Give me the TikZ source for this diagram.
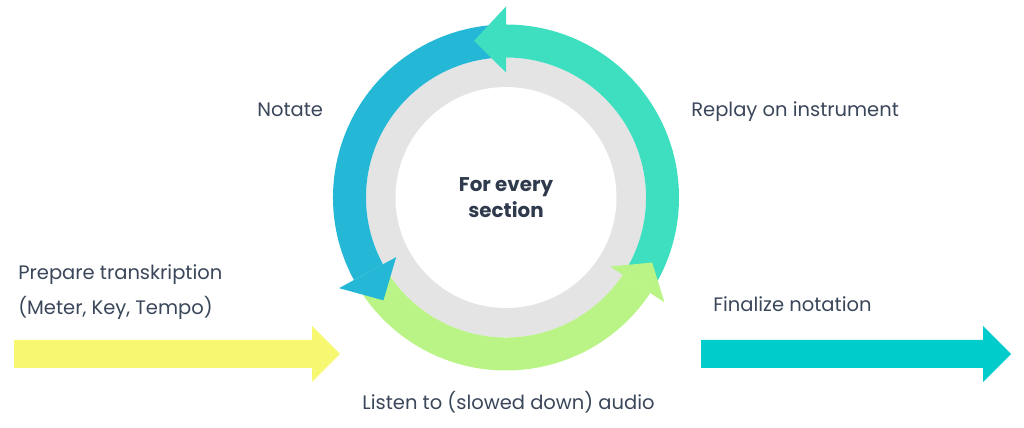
\documentclass[tikz,border=0pt]{standalone}
\usepackage{fontspec}
\setmainfont{Poppins}
\usepackage{tikz}
\usetikzlibrary{calc}

\definecolor{cycblue}{RGB}{37,184,214}
\definecolor{cycteal}{RGB}{61,223,192}
\definecolor{cycgreen}{RGB}{186,244,134}
\definecolor{inyellow}{RGB}{247,247,114}
\definecolor{outcyan}{RGB}{0,204,204}
\definecolor{ringgray}{RGB}{228,228,228}
\definecolor{txtgray}{RGB}{58,70,89}
\definecolor{txtdark}{RGB}{47,59,77}

\tikzset{
  steplabel/.style={text=txtgray, font=\fontsize{11.1}{13}\selectfont, inner sep=0pt},
  centerlabel/.style={text=txtdark, font=\fontsize{11.3}{14.5}\selectfont\bfseries, align=center, inner sep=0pt}
}

\begin{document}
\begin{tikzpicture}[x=0.02cm, y=0.02cm]
  \useasboundingbox (0,0) rectangle (1024,428);

  \coordinate (C) at (506,230.5);

  % Ring in the middle
  \fill[ringgray] (C) circle (140);
  \fill[white] (C) circle (110.5);

  \begin{scope}[shift={(C)}]
    % Shafts of the three cycle arrows
    \fill[cycblue] (91:140) arc[start angle=91, end angle=208.5, radius=140]
      -- (208.5:173) arc[start angle=208.5, end angle=91, radius=173] -- cycle;
    \fill[cycgreen] (209:140) arc[start angle=209, end angle=326.5, radius=140]
      -- (326.5:173) arc[start angle=326.5, end angle=209, radius=173] -- cycle;
    \fill[cycteal] (-33:140) arc[start angle=-33, end angle=90, radius=140]
      -- (90:173) arc[start angle=90, end angle=-33, radius=173] -- cycle;

    % Heads
    \fill[cycblue] (208.5:125) -- (220:160) -- (208.5:190) -- cycle;
    \fill[cycgreen] (326.5:125) -- (336:160) -- (326.5:190) -- cycle;
    \fill[cycteal] (90:125) -- (101.5:160) -- (90:191) -- cycle;
  \end{scope}

  % Straight arrows in and out
  \fill[inyellow] (14,88) -- (312,88) -- (312,102) -- (340,74) -- (312,46) -- (312,60) -- (14,60) -- cycle;
  \fill[outcyan] (701,88) -- (983,88) -- (983,102) -- (1011,74) -- (983,46) -- (983,60) -- (701,60) -- cycle;

  % Labels
  \node[centerlabel] (every) at (C) {For every\\section};
  \node[steplabel, anchor=base west] (notate) at (257,311) {Notate};
  \node[steplabel, anchor=base west] (replay) at (691,311) {Replay on instrument};
  \node[steplabel, anchor=base] (listen) at (508.5,18) {Listen to (slowed down) audio};
  \node[steplabel, anchor=base west] (prepare) at (18,148) {Prepare transkription};
  \node[steplabel, anchor=base west] (meter) at (18,113) {(Meter, Key, Tempo)};
  \node[steplabel, anchor=base west] (final) at (713,116) {Finalize notation};
\end{tikzpicture}
\end{document}
